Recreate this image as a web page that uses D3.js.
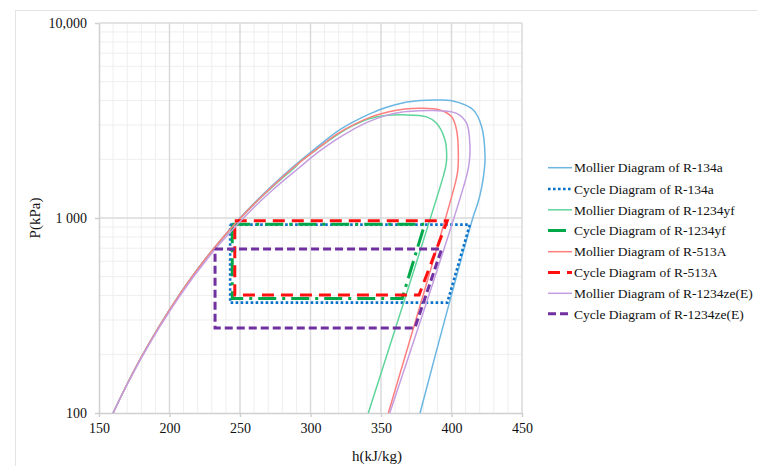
<!DOCTYPE html>
<html>
<head>
<meta charset="utf-8">
<script src="https://cdn.jsdelivr.net/npm/d3@7"></script>
<style>
  body { margin: 0; background: #fff; }
  svg { display: block; font-family: "Liberation Serif", "Times New Roman", serif; }
</style>
</head>
<body>
<svg width="757" height="466"></svg>
<script>
// saturation domes, [h kJ/kg, P kPa] from liquid side over the top to vapour side
const mollier134a = [[160,100],[169.8,140],[181.1,200],[192.9,280],[206.6,400],[216,500],[224.2,600],[231.5,700],[238.2,800],[244.3,900],[250,1000],[260.5,1200],[269.9,1400],[278.5,1600],[286.4,1800],[294,2000],[306,2350],[318,2750],[330,3100],[342,3420],[354,3700],[366,3900],[378,4000],[388,4030],[401,3981],[415.5,3581],[421.4,2938],[423.8,2061],[423.2,1750],[421.5,1450],[418.8,1200],[415.5,1020],[398.5,368],[377.7,100]];
const mollier1234yf = [[160,100],[169.8,140],[181.1,200],[192.9,280],[206.6,400],[216,500],[224.2,600],[231.6,700],[238.4,800],[244.6,900],[250.4,1000],[261.2,1200],[271,1400],[280,1600],[288.3,1800],[293,1950],[304.5,2250],[316.5,2600],[329,2950],[341,3220],[353,3350],[366,3380],[382.4,3302],[389.4,3063],[395.4,2512],[396.6,2061],[396,1850],[394.3,1650],[341,100]];
const mollier513A = [[160,100],[169.8,140],[181.1,200],[192.9,280],[206.6,400],[216,500],[224.2,600],[231.5,700],[238.2,800],[244.4,900],[250.3,1000],[261,1200],[270.6,1400],[279.3,1600],[287.3,1800],[295,2000],[307,2330],[319,2700],[331,3020],[343,3300],[355,3500],[367,3620],[378,3655],[391.8,3581],[400.1,3302],[403.6,2826],[404.8,1900],[404.2,1700],[402.6,1500],[355.2,100]];
const mollier1234ze = [[160,100],[170,140],[181.5,200],[193.5,280],[207.5,400],[217,500],[225.5,600],[232.5,694],[240,800],[246.5,900],[252.5,1000],[263.5,1200],[273.5,1400],[283,1600],[291.5,1800],[304.5,2150],[316.5,2480],[328.5,2800],[340.5,3100],[352,3330],[364,3490],[376,3545],[387.1,3555],[403.6,3442],[410.7,3063],[413.1,2318],[412.8,2000],[411.2,1700],[356.2,100]];

// refrigeration cycles: [h, P] corners
const cycle134a = [[243,925],[413,925],[397,368],[243,368],[243,925]];
const cycle1234yf = [[244.5,930],[381,930],[365,387],[244.5,387],[244.5,930]];
const cycle513A = [[246.3,968],[397,968],[377,403],[246.3,403],[246.3,968]];
const cycle1234ze = [[232.3,693],[393,693],[374,273],[232.3,273],[232.3,693]];

const xTicks = [150, 200, 250, 300, 350, 400, 450];
const yTicks = [100, 1000, 10000];
const yTickLabels = ["100", "1 000", "10,000"];

const seriesNames = ["Mollier Diagram of R-134a", "Cycle Diagram of R-134a",
  "Mollier Diagram of R-1234yf", "Cycle Diagram of R-1234yf",
  "Mollier Diagram of R-513A", "Cycle Diagram of R-513A",
  "Mollier Diagram of R-1234ze(E)", "Cycle Diagram of R-1234ze(E)"];
const seriesData = [mollier134a, cycle134a, mollier1234yf, cycle1234yf,
  mollier513A, cycle513A, mollier1234ze, cycle1234ze];

const styles = [
  { color: "#6cb6e2", width: 1.5, dash: null, smooth: true },
  { color: "#0a72c8", width: 2.6, dash: "2.6,2.4", smooth: false },
  { color: "#5fd49c", width: 1.5, dash: null, smooth: true },
  { color: "#00a84a", width: 3, dash: "18,6,3,6", smooth: false },
  { color: "#ff7f7f", width: 1.5, dash: null, smooth: true },
  { color: "#ff1010", width: 3, dash: "12,7", smooth: false },
  { color: "#c49ee0", width: 1.5, dash: null, smooth: true },
  { color: "#7030a0", width: 3, dash: "8,4", smooth: false }
];

const margin = { top: 23, left: 99, right: 522, bottom: 413 };
const svg = d3.select("svg");

// outer chart frame
svg.append("rect")
  .attr("x", 15.5).attr("y", 10.5)
  .attr("width", 800).attr("height", 500)
  .attr("fill", "none").attr("stroke", "#e3e3e3").attr("stroke-width", 1);

const x = d3.scaleLinear().domain([150, 450]).range([margin.left, margin.right]);
const y = d3.scaleLog().domain([100, 10000]).range([margin.bottom, margin.top]);

// grid
const grid = svg.append("g");
const minorX = d3.range(150, 451, 10).filter(v => v % 50 !== 0);
grid.selectAll(".mx").data(minorX).enter().append("line")
  .attr("x1", d => x(d)).attr("x2", d => x(d))
  .attr("y1", margin.top).attr("y2", margin.bottom)
  .attr("stroke", "#eeeeee").attr("stroke-width", 1);
const minorY = [];
[100, 1000].forEach(dec => { for (let k = 2; k <= 9; k++) minorY.push(dec * k); });
grid.selectAll(".my").data(minorY).enter().append("line")
  .attr("x1", margin.left).attr("x2", margin.right)
  .attr("y1", d => y(d)).attr("y2", d => y(d))
  .attr("stroke", "#eeeeee").attr("stroke-width", 1);
grid.selectAll(".Mx").data(xTicks.slice(1)).enter().append("line")
  .attr("x1", d => x(d)).attr("x2", d => x(d))
  .attr("y1", margin.top).attr("y2", margin.bottom)
  .attr("stroke", "#dadada").attr("stroke-width", 1.5);
grid.selectAll(".My").data(yTicks.slice(1)).enter().append("line")
  .attr("x1", margin.left).attr("x2", margin.right)
  .attr("y1", d => y(d)).attr("y2", d => y(d))
  .attr("stroke", "#dadada").attr("stroke-width", 1.5);

// axes
const xAxis = svg.append("g").attr("transform", `translate(0,${margin.bottom})`)
  .call(d3.axisBottom(x).tickValues(xTicks).tickSize(4).tickSizeOuter(0).tickPadding(6));
const yAxis = svg.append("g").attr("transform", `translate(${margin.left},0)`)
  .call(d3.axisLeft(y).tickValues(yTicks).tickFormat((d, i) => yTickLabels[i])
    .tickSize(4).tickSizeOuter(0).tickPadding(8));
[xAxis, yAxis].forEach(a => {
  a.select(".domain").attr("stroke", "#d0d0d0").attr("stroke-width", 1.5);
  a.selectAll(".tick line").attr("stroke", "#d0d0d0").attr("stroke-width", 1.5);
  a.selectAll("text").attr("font-family", "Liberation Serif").attr("font-size", 14).attr("fill", "#111");
});
yAxis.selectAll("text").attr("dy", "0.35em");

svg.append("text")
  .attr("x", 377).attr("y", 461)
  .attr("text-anchor", "middle").attr("font-size", 15).attr("fill", "#111")
  .text("h(kJ/kg)");
svg.append("text")
  .attr("transform", "translate(40,218) rotate(-90)")
  .attr("text-anchor", "middle").attr("font-size", 15).attr("fill", "#111")
  .text("P(kPa)");

// series
const plot = svg.append("g");
seriesData.forEach((data, i) => {
  const st = styles[i];
  const line = d3.line()
    .x(d => x(d[0])).y(d => y(d[1]))
    .curve(st.smooth ? d3.curveCatmullRom.alpha(0.5) : d3.curveLinear);
  plot.append("path")
    .datum(data)
    .attr("d", line)
    .attr("fill", "none")
    .attr("stroke", st.color)
    .attr("stroke-width", st.width)
    .attr("stroke-dasharray", st.dash)
    .attr("stroke-linejoin", "miter");
});

// legend
const legend = svg.append("g");
const legY = [167.7, 189, 209.8, 230.5, 251.7, 272.5, 293.3, 313.8];
seriesNames.forEach((name, i) => {
  const st = styles[i];
  legend.append("line")
    .attr("x1", 548).attr("x2", 572)
    .attr("y1", legY[i]).attr("y2", legY[i])
    .attr("stroke", st.color)
    .attr("stroke-width", st.width)
    .attr("stroke-dasharray", st.dash);
  legend.append("text")
    .attr("x", 574).attr("y", legY[i]).attr("dy", "0.35em")
    .attr("font-size", 13.5).attr("fill", "#111")
    .text(name);
});
</script>
</body>
</html>
